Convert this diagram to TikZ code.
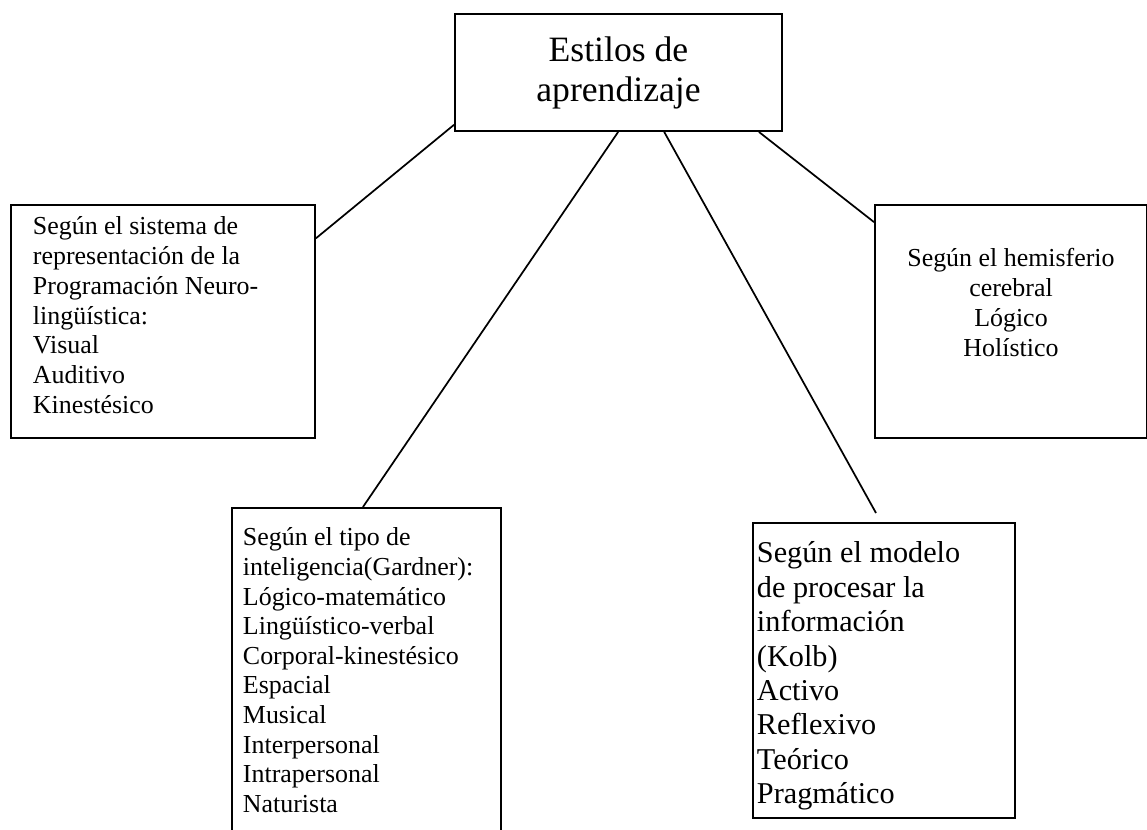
\documentclass[tikz,border=0pt]{standalone}
\usepackage{fontspec}
\setmainfont{Liberation Serif}
\usetikzlibrary{calc}
\newdimen\pu \pu=0.463pt
\tikzset{
  boxnode/.style={draw, line width=0.9pt, inner sep=0pt, anchor=north west},
  conn/.style={line width=0.8pt},
}
\begin{document}
\begin{tikzpicture}[x=0.463pt, y=-0.463pt]
\useasboundingbox (0,0) rectangle (1147,829);
\clip (0,0) rectangle (1147,829);
% top
\node[boxnode] (top) at (454,13) {\begin{minipage}[t][117\pu][c]{327\pu}\centering\fontsize{16.5}{18.5}\selectfont
Estilos de\\aprendizaje\end{minipage}};
% left
\node[boxnode] (lb) at (10,204) {\begin{minipage}[t][233\pu][t]{304\pu}\fontsize{12}{13.75}\selectfont\lineskiplimit=-20pt\raggedright\leftskip=22\pu
\rule{0pt}{30\pu}Según el sistema de\\
representación de la\\
Programación Neuro-\\
lingüística:\\
Visual\\
Auditivo\\
Kinestésico\end{minipage}};
% right
\node[boxnode] (rb) at (874,204) {\begin{minipage}[t][233\pu][t]{272\pu}\fontsize{12}{13.75}\selectfont\lineskiplimit=-20pt\centering
\rule{0pt}{62\pu}Según el hemisferio\\
cerebral\\
Lógico\\
Holístico\end{minipage}};
% bottom left
\node[boxnode] (bl) at (231,507) {\begin{minipage}[t][400\pu][t]{269\pu}\fontsize{12}{13.7}\selectfont\lineskiplimit=-20pt\raggedright\leftskip=11\pu
\rule{0pt}{38\pu}Según el tipo de\\
inteligencia(Gardner):\\
Lógico-matemático\\
Lingüístico-verbal\\
Corporal-kinestésico\\
Espacial\\
Musical\\
Interpersonal\\
Intrapersonal\\
Naturista\end{minipage}};
% bottom right
\node[boxnode] (br) at (752,522) {\begin{minipage}[t][295\pu][t]{262\pu}\fontsize{14}{15.9}\selectfont\lineskiplimit=-20pt\raggedright\leftskip=4\pu
\rule{0pt}{40\pu}Según el modelo\\
de procesar la\\
información\\
(Kolb)\\
Activo\\
Reflexivo\\
Teórico\\
Pragmático\end{minipage}};
\coordinate (e3) at (876,513);
\draw[conn] ($(top.south west)!0.06!(top.north west)$) -- ($(lb.north east)!0.146!(lb.south east)$);
\draw[conn] ($(top.south west)!0.499!(top.south east)$) -- ($(bl.north west)!0.487!(bl.north east)$);
\draw[conn] ($(top.south west)!0.639!(top.south east)$) -- (e3);
\draw[conn] ($(top.south west)!0.927!(top.south east)$) -- ($(rb.north west)!0.077!(rb.south west)$);
\end{tikzpicture}
\end{document}
